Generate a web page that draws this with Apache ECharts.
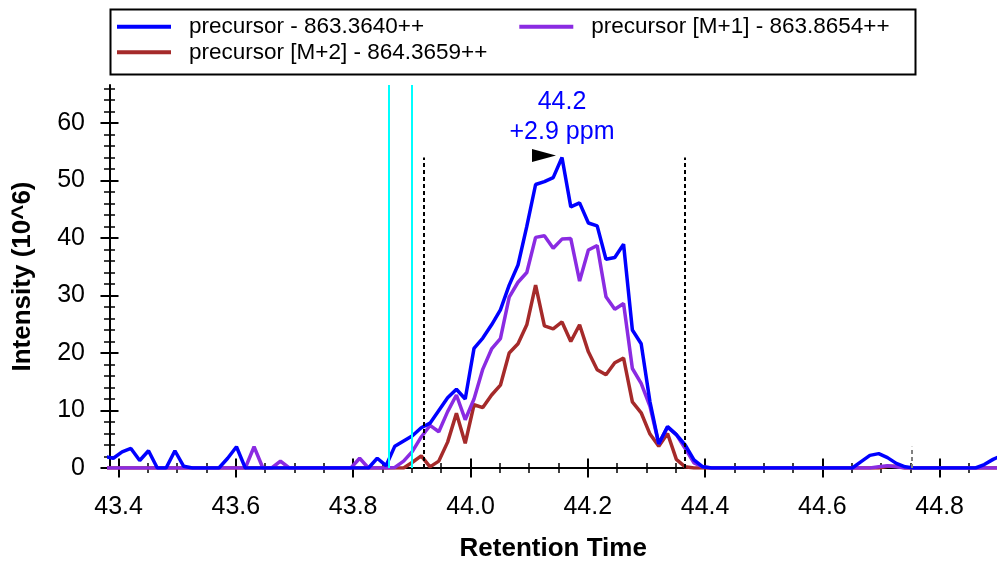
<!DOCTYPE html>
<html>
<head>
<meta charset="utf-8">
<script src="https://cdn.jsdelivr.net/npm/echarts@6/dist/echarts.min.js"></script>
<style>
  html, body { margin: 0; padding: 0; background: #fff; }
  #chart { width: 997px; height: 563px; }
</style>
</head>
<body>
<div id="chart"></div>
<script>
// retention times (min)
var times = [
    43.361, 43.376, 43.391, 43.406, 43.421, 43.436, 43.451, 43.466,
    43.481, 43.496, 43.511, 43.526, 43.541, 43.556, 43.571, 43.586,
    43.601, 43.616, 43.631, 43.646, 43.661, 43.676, 43.691, 43.706,
    43.721, 43.736, 43.751, 43.766, 43.781, 43.796, 43.811, 43.826,
    43.841, 43.856, 43.871, 43.886, 43.901, 43.916, 43.931, 43.946,
    43.961, 43.976, 43.991, 44.006, 44.021, 44.036, 44.051, 44.066,
    44.081, 44.096, 44.111, 44.126, 44.141, 44.156, 44.171, 44.186,
    44.201, 44.216, 44.231, 44.246, 44.261, 44.276, 44.291, 44.306,
    44.321, 44.336, 44.351, 44.366, 44.381, 44.396, 44.411, 44.426,
    44.441, 44.456, 44.471, 44.486, 44.501, 44.516, 44.531, 44.546,
    44.561, 44.576, 44.591, 44.606, 44.621, 44.636, 44.651, 44.666,
    44.681, 44.696, 44.711, 44.726, 44.741, 44.756, 44.771, 44.786,
    44.801, 44.816, 44.831, 44.846, 44.861, 44.876, 44.891, 44.906
];

// precursor - 863.3640++
var mono = [
    2.1, 2.0, 1.7, 2.8, 3.4, 1.3, 3.0, 0,
    0, 3.0, 0.3, 0, 0, 0, 0, 1.7,
    3.7, 0, 0, 0, 0, 0, 0, 0,
    0, 0, 0, 0, 0, 0, 0, 0,
    1.7, 0.4, 3.8, 4.7, 5.6, 7.0, 7.8, 10.0,
    12.2, 13.7, 12.0, 20.8, 22.6, 24.9, 27.5, 31.8,
    35.3, 42.0, 49.3, 49.8, 50.5, 54.0, 45.4, 46.1,
    42.6, 42.1, 36.3, 36.6, 38.9, 24.0, 21.6, 11.5,
    4.2, 7.2, 5.8, 4.0, 1.4, 0.2, 0, 0,
    0, 0, 0, 0, 0, 0, 0, 0,
    0, 0, 0, 0, 0, 0, 0, 1.1,
    2.2, 2.5, 1.8, 0.8, 0.2, 0, 0, 0,
    0, 0, 0, 0, 0, 0.6, 1.5, 2.2
];

// precursor [M+1] - 863.8654++
var m1 = [
    0, 0, 0, 0, 0, 0, 0, 0,
    0, 0, 0, 0, 0, 0, 0, 0,
    0, 0, 3.7, 0, 0, 1.2, 0, 0,
    0, 0, 0, 0, 0, 0, 1.7, 0,
    0, 0, 0.1, 1.2, 2.9, 5.4, 7.4, 6.3,
    9.8, 12.7, 8.4, 12.0, 17.2, 20.7, 22.5, 29.7,
    32.3, 34.0, 40.1, 40.4, 38.2, 39.8, 39.9, 32.5,
    37.9, 38.7, 29.8, 27.6, 28.6, 17.3, 14.7, 10.7,
    4.2, 7.1, 5.8, 3.4, 0.9, 0.2, 0, 0,
    0, 0, 0, 0, 0, 0, 0, 0,
    0, 0, 0, 0, 0, 0, 0, 0,
    0, 0.2, 0.4, 0.2, 0, 0, 0, 0,
    0, 0, 0, 0, 0, 0, 0, 0
];

// precursor [M+2] - 864.3659++
var m2 = [
    0, 0, 0, 0, 0, 0, 0, 0,
    0, 0, 0, 0, 0, 0, 0, 0,
    0, 0, 0, 0, 0, 0, 0, 0,
    0, 0, 0, 0, 0, 0, 0, 0,
    0, 0, 0, 0, 1.0, 2.1, 0.2, 1.2,
    4.5, 9.5, 4.3, 11.0, 10.5, 12.7, 14.4, 20.0,
    21.6, 24.9, 31.8, 24.7, 24.2, 25.4, 22.0, 24.9,
    20.2, 17.1, 16.2, 18.3, 19.1, 11.5, 9.6, 5.9,
    3.8, 6.0, 1.5, 0.2, 0, 0, 0, 0,
    0, 0, 0, 0, 0, 0, 0, 0,
    0, 0, 0, 0, 0, 0, 0, 0,
    0, 0, 0.3, 0.3, 0, 0, 0, 0,
    0, 0, 0, 0, 0, 0, 0, 0
];

var names = ['precursor - 863.3640++', 'precursor [M+1] - 863.8654++', 'precursor [M+2] - 864.3659++'];

// tick labels
var xTicks = [43.4, 43.6, 43.8, 44.0, 44.2, 44.4, 44.6, 44.8];
var xMinor = [43.4, 43.45, 43.5, 43.55, 43.6, 43.65, 43.7, 43.75, 43.8, 43.85, 43.9, 43.95, 44.0,
    44.05, 44.1, 44.15, 44.2, 44.25, 44.3, 44.35, 44.4, 44.45, 44.5, 44.55, 44.6, 44.65, 44.7, 44.75, 44.8, 44.85];
var yTicks = [0, 10, 20, 30, 40, 50, 60];
var yMinor = [0, 2, 4, 6, 8, 10, 12, 14, 16, 18, 20, 22, 24, 26, 28, 30, 32, 34, 36, 38, 40,
    42, 44, 46, 48, 50, 52, 54, 56, 58, 60, 62, 64, 66];

// annotation lines
var cyanTimes = [43.863, 43.898];
var boundTimes = [43.920, 44.366];
var greyTime = [44.752, 3.7];
var massError = '+2.9 ppm';

var FONT = 'Liberation Sans, Arial, sans-serif';
var xMin = 43.3845, xMax = 44.8977, yMax = 66.6;

function pairs(vals) {
    return times.map(function (t, i) { return [t, vals[i]]; });
}

// apex of main trace
var apex = 0;
mono.forEach(function (v, i) { if (v > mono[apex]) apex = i; });
var apexT = times[apex], apexV = mono[apex];

var chart = echarts.init(document.getElementById('chart'));

var tickAxis = function (type, vals, off, len, w) {
    return {
        type: 'value', min: type == 'x' ? xMin : 0, max: type == 'x' ? xMax : yMax,
        position: type == 'x' ? 'bottom' : 'left', offset: off,
        axisLine: {show: false},
        axisTick: {show: true, customValues: vals, length: len, lineStyle: {color: '#000', width: w}},
        axisLabel: {show: false},
        splitLine: {show: false}
    };
};

var boundLines = [];
boundTimes.forEach(function (t) {
    boundLines.push([{coord: [t, 0]}, {coord: [t, apexV]}]);
});

option = {
    animation: false,
    backgroundColor: '#fff',
    grid: {left: 109.5, right: 0, top: 85, bottom: 95, outerBoundsMode: 'none', containLabel: false},
    graphic: [{
        type: 'rect', left: 108, top: 7,
        shape: {width: 805, height: 65},
        style: {fill: 'none', stroke: '#000', lineWidth: 2}
    }],
    legend: [{
        orient: 'vertical', left: 117, top: 13.9, padding: 0, itemGap: 0,
        itemWidth: 54, itemHeight: 4, icon: 'rect', selectedMode: false,
        data: [names[0], names[2]],
        textStyle: {fontSize: 22.5, fontFamily: FONT, color: '#000', lineHeight: 25.6, padding: [0, 0, 0, 13]}
    }, {
        orient: 'vertical', left: 519.3, top: 13.9, padding: 0, itemGap: 0,
        itemWidth: 54, itemHeight: 4, icon: 'rect', selectedMode: false,
        data: [names[1]],
        textStyle: {fontSize: 22.5, fontFamily: FONT, color: '#000', lineHeight: 25.6, padding: [0, 0, 0, 13]}
    }],
    xAxis: [{
        type: 'value', min: xMin, max: xMax, position: 'bottom',
        name: 'Retention Time', nameLocation: 'middle', nameGap: 68,
        nameTextStyle: {fontSize: 26, fontWeight: 'bold', fontFamily: FONT, color: '#000'},
        axisLine: {show: true, lineStyle: {color: '#000', width: 2}},
        axisTick: {show: false},
        axisLabel: {
            customValues: xTicks, margin: 27, fontSize: 25, fontFamily: FONT, color: '#000',
            formatter: function (v) { return v.toFixed(1); }
        },
        splitLine: {show: false}
    },
        tickAxis('x', xTicks, -9.5, 19, 2),
        tickAxis('x', xMinor, -5, 10, 1.5)
    ],
    yAxis: [{
        type: 'value', min: 0, max: yMax, position: 'left',
        name: 'Intensity (10^6)', nameLocation: 'middle', nameGap: 73.5,
        nameTextStyle: {fontSize: 26, fontWeight: 'bold', fontFamily: FONT, color: '#000'},
        axisLine: {show: true, lineStyle: {color: '#000', width: 2}},
        axisTick: {show: false},
        axisLabel: {customValues: yTicks, margin: 24.5, fontSize: 25, fontFamily: FONT, color: '#000'},
        splitLine: {show: false}
    },
        tickAxis('y', yTicks, -9, 18, 2),
        tickAxis('y', yMinor, -5.5, 11, 1.5)
    ],
    series: [
        {
            name: 'marks', type: 'line', data: [], z: 1, silent: true,
            markLine: {
                silent: true, symbol: 'none', animation: false, label: {show: false},
                data: [
                    {xAxis: cyanTimes[0], lineStyle: {color: '#00ffff', width: 2, type: 'solid'}},
                    {xAxis: cyanTimes[1], lineStyle: {color: '#00ffff', width: 2, type: 'solid'}}
                ].concat(boundLines.map(function (d) {
                    d[0].lineStyle = {color: '#000', width: 2, type: [4, 3]};
                    return d;
                })).concat([[
                    {coord: [greyTime[0], 0], lineStyle: {color: '#808080', width: 2, type: [4, 3]}},
                    {coord: [greyTime[0], greyTime[1]]}
                ]])
            }
        },
        {
            name: names[2], type: 'line', data: pairs(m2), z: 2,
            showSymbol: false, symbol: 'none', color: '#a52a2a',
            lineStyle: {width: 3.5, color: '#a52a2a'}
        },
        {
            name: names[1], type: 'line', data: pairs(m1), z: 3,
            showSymbol: false, symbol: 'none', color: '#8a2be2',
            lineStyle: {width: 3.5, color: '#8a2be2'}
        },
        {
            name: names[0], type: 'line', data: pairs(mono), z: 4,
            showSymbol: false, symbol: 'none', color: '#0000ff',
            lineStyle: {width: 3.5, color: '#0000ff'},
            markPoint: {
                silent: true, animation: false,
                data: [{
                    coord: [apexT, apexV],
                    symbol: 'path://M0,0L10,5L0,10Z', symbolSize: [24, 13], symbolOffset: [-18, -2],
                    itemStyle: {color: '#000'}, label: {show: false}
                }, {
                    coord: [apexT, apexV], symbol: 'circle', symbolSize: 1,
                    itemStyle: {color: 'rgba(0,0,0,0)'},
                    label: {
                        show: true, position: 'inside', offset: [0, -40],
                        formatter: apexT.toFixed(1) + '\n' + massError,
                        fontSize: 25, lineHeight: 30, fontFamily: FONT, color: '#0000ff'
                    }
                }]
            }
        }
    ]
};

chart.setOption(option);
</script>
</body>
</html>
